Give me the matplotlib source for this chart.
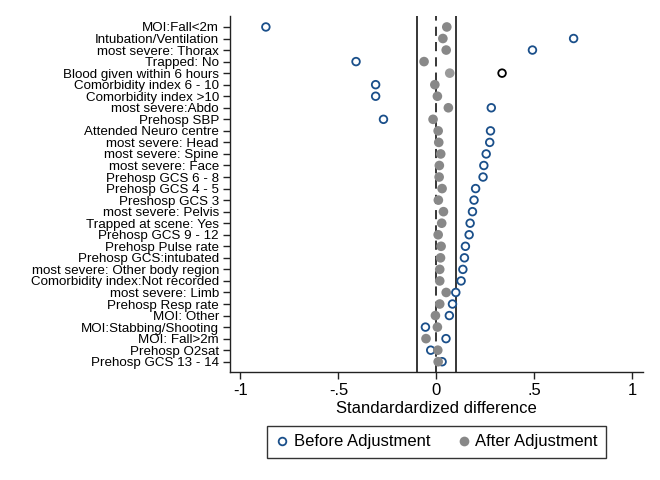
import numpy as np
import matplotlib
matplotlib.use("Agg")
import matplotlib.pyplot as plt
from matplotlib.lines import Line2D

plt.rcParams['font.family'] = ['Liberation Sans', 'DejaVu Sans']

labels = [
    "MOI:Fall<2m", "Intubation/Ventilation", "most severe: Thorax", "Trapped: No",
    "Blood given within 6 hours", "Comorbidity index 6 - 10", "Comorbidity index >10",
    "most severe:Abdo", "Prehosp SBP", "Attended Neuro centre", "most severe: Head",
    "most severe: Spine", "most severe: Face", "Prehosp GCS 6 - 8", "Prehosp GCS 4 - 5",
    "Preshosp GCS 3", "most severe: Pelvis", "Trapped at scene: Yes", "Prehosp GCS 9 - 12",
    "Prehosp Pulse rate", "Prehosp GCS:intubated", "most severe: Other body region",
    "Comorbidity index:Not recorded", "most severe: Limb", "Prehosp Resp rate",
    "MOI: Other", "MOI:Stabbing/Shooting", "MOI: Fall>2m", "Prehosp O2sat",
    "Prehosp GCS 13 - 14",
]
before = [-0.87, 0.70, 0.49, -0.41, 0.335, -0.31, -0.31, 0.28, -0.27, 0.276,
          0.272, 0.254, 0.242, 0.238, 0.20, 0.192, 0.184, 0.172, 0.167, 0.148,
          0.143, 0.135, 0.126, 0.099, 0.082, 0.066, -0.056, 0.049, -0.029, 0.029]
after = [0.053, 0.033, 0.05, -0.063, 0.068, -0.008, 0.005, 0.061, -0.017, 0.009,
         0.012, 0.022, 0.015, 0.014, 0.029, 0.010, 0.036, 0.027, 0.009, 0.024,
         0.021, 0.017, 0.017, 0.050, 0.017, -0.005, 0.005, -0.053, 0.007, 0.009]
# one row is drawn highlighted in the original
highlight = "Blood given within 6 hours"

navy = '#1a4f8a'
gray = '#888888'

n = len(labels)
ypos = np.arange(n, 0, -1)

fig = plt.figure(figsize=(6.6, 4.8), dpi=100)
ax = fig.add_axes([230/660, 1 - 372/480, 413/660, 356/480])

ax.axvline(-0.1, color='black', lw=1.1, zorder=1)
ax.axvline(0.1, color='black', lw=1.1, zorder=1)
ax.axvline(0, color='black', lw=1.1, ls=(0, (6, 4)), zorder=1)

edge_cols = ['black' if l == highlight else navy for l in labels]
fill_cols = ['#9a9a9a' if l == highlight else gray for l in labels]

ax.scatter(before, ypos, s=30, facecolors='white', edgecolors=edge_cols,
           linewidths=1.3, zorder=2)
ax.scatter(after, ypos, s=48, color=fill_cols, edgecolors='none', zorder=3)

ax.set_xlim(-1.053, 1.054)
ax.set_ylim(0.11, n + 0.95)
ax.set_yticks(ypos)
ax.set_yticklabels(labels, fontsize=9.6)
ax.set_xticks([-1, -0.5, 0, 0.5, 1])
ax.set_xticklabels(['-1', '-.5', '0', '.5', '1'], fontsize=12)
ax.set_xlabel('Standardardized difference', fontsize=12, labelpad=2)

for side in ['top', 'right']:
    ax.spines[side].set_visible(False)
for side in ['left', 'bottom']:
    ax.spines[side].set_linewidth(1)
    ax.spines[side].set_color('#222222')
ax.tick_params(axis='y', length=5, width=1, pad=3, colors='#222222', labelcolor='black')
ax.tick_params(axis='x', length=5, width=1, pad=3, colors='#222222', labelcolor='black')

handles = [
    Line2D([], [], ls='none', marker='o', markersize=5.5, markerfacecolor='white',
           markeredgecolor=navy, markeredgewidth=1.3, label='Before Adjustment'),
    Line2D([], [], ls='none', marker='o', markersize=7, markerfacecolor=gray,
           markeredgecolor='none', label='After Adjustment'),
]
leg = fig.legend(handles=handles, ncol=2, loc='upper center',
                 bbox_to_anchor=(436.5/660, 1 - 426/480), bbox_transform=fig.transFigure,
                 fontsize=12, frameon=True, fancybox=False, edgecolor='black',
                 handlelength=0.8, handletextpad=0.3, columnspacing=1.6,
                 borderpad=0.5, borderaxespad=0)
leg.get_frame().set_linewidth(1)

fig.savefig('out.png', dpi=100, facecolor='white')
